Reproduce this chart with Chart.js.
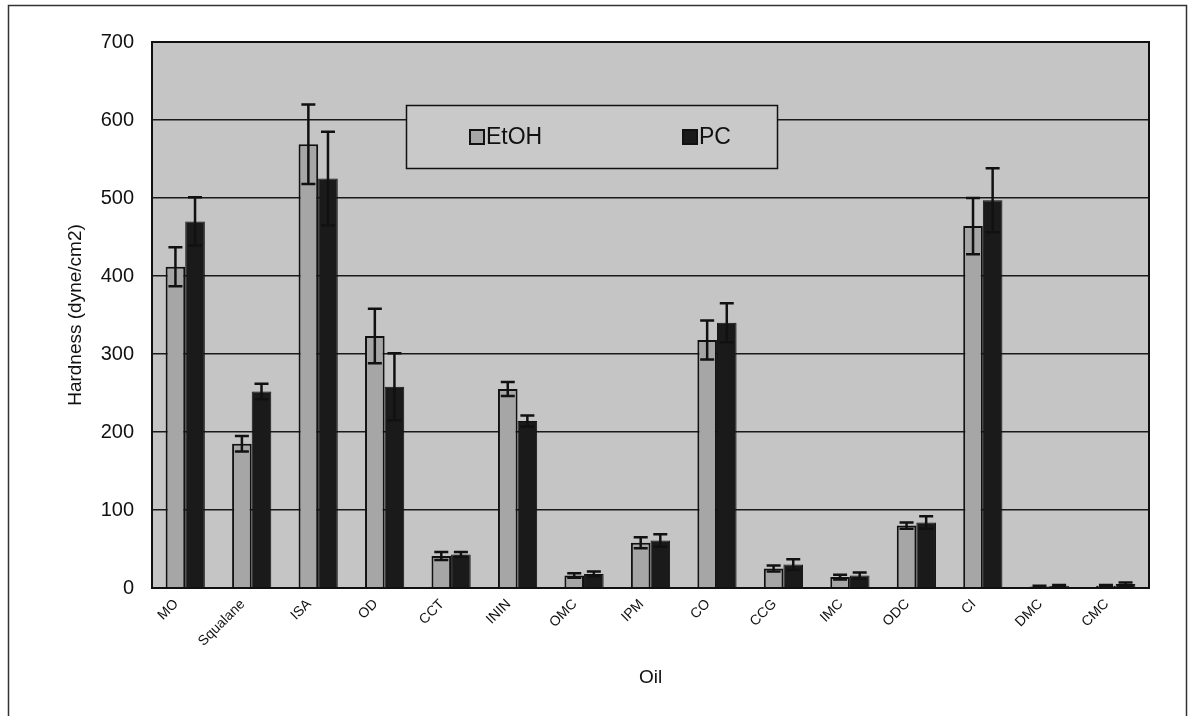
<!DOCTYPE html>
<html>
<head>
<meta charset="utf-8">
<script src="https://cdn.jsdelivr.net/npm/chart.js@4.4.0/dist/chart.umd.min.js"></script>
<style>
    html, body { margin: 0; padding: 0; background: #ffffff; }
    #wrap { position: relative; width: 1189px; height: 716px; }
</style>
</head>
<body>
<div id="wrap"><canvas id="chart1" width="1189" height="716"></canvas></div>
<script>
const oils = ['MO', 'Squalane', 'ISA', 'OD', 'CCT', 'ININ', 'OMC', 'IPM', 'CO', 'CCG', 'IMC', 'ODC', 'CI', 'DMC', 'CMC']
const etohValues = [412, 185, 569, 323, 41, 255, 16, 58, 318, 25, 14, 80, 464, 2, 3]
const etohErrors = [25, 10, 51, 35, 5, 9, 3, 7, 25, 4, 3, 4, 36, 1, 1]
const pcValues = [470, 252, 525, 258, 43, 214, 18, 61, 340, 30, 16, 84, 497, 3, 5]
const pcErrors = [31, 10, 60, 43, 3, 7, 3, 8, 25, 7, 4, 8, 41, 1, 2]
const yTicks = [0, 100, 200, 300, 400, 500, 600, 700]

const errorSets = [etohErrors, pcErrors]

// grey plot area + outer frame
const backgroundPlugin = {
    id: 'background',
    beforeDraw(chart) {
        const ctx = chart.ctx
        const a = chart.chartArea
        ctx.save()
        ctx.strokeStyle = '#333'
        ctx.lineWidth = 1.5
        ctx.strokeRect(8.5, 5.5, 1178, 712)
        ctx.fillStyle = '#c5c5c5'
        ctx.fillRect(a.left, a.top, a.right - a.left, a.bottom - a.top)
        ctx.restore()
    },
    afterDraw(chart) {
        const ctx = chart.ctx
        const a = chart.chartArea
        ctx.save()
        ctx.strokeStyle = '#111'
        ctx.lineWidth = 2
        ctx.strokeRect(a.left, a.top, a.right - a.left, a.bottom - a.top)
        ctx.restore()
    }
}

const errorBarPlugin = {
    id: 'errorBars',
    afterDatasetsDraw(chart) {
        const ctx = chart.ctx
        const y = chart.scales.y
        ctx.save()
        ctx.strokeStyle = '#111'
        ctx.lineWidth = 2.5
        chart.data.datasets.forEach((ds, i) => {
            const meta = chart.getDatasetMeta(i)
            meta.data.forEach((bar, j) => {
                const v = ds.data[j]
                const e = errorSets[i][j]
                const top = y.getPixelForValue(v + e)
                const bottom = y.getPixelForValue(Math.max(0, v - e))
                const x = bar.x
                ctx.beginPath()
                ctx.moveTo(x, top)
                ctx.lineTo(x, bottom)
                ctx.moveTo(x - 7, top)
                ctx.lineTo(x + 7, top)
                ctx.moveTo(x - 7, bottom)
                ctx.lineTo(x + 7, bottom)
                ctx.stroke()
            })
        })
        ctx.restore()
    }
}

// legend box inside plot area
const legendBoxPlugin = {
    id: 'legendBox',
    afterDraw(chart) {
        const ctx = chart.ctx
        ctx.save()
        ctx.fillStyle = '#c9c9c9'
        ctx.fillRect(406, 105, 371, 63)
        ctx.strokeStyle = '#111'
        ctx.lineWidth = 1.5
        ctx.strokeRect(406.5, 105.5, 371, 63)
        const xs = [470, 683]
        ctx.font = '23px "Liberation Sans", Arial, sans-serif'
        ctx.textBaseline = 'middle'
        chart.data.datasets.forEach((ds, i) => {
            ctx.fillStyle = ds.backgroundColor
            ctx.fillRect(xs[i], 130, 14, 14)
            ctx.strokeStyle = '#111'
            ctx.lineWidth = 2
            ctx.strokeRect(xs[i], 130, 14, 14)
            ctx.fillStyle = '#111'
            ctx.fillText(ds.label, xs[i] + 16, 138)
        })
        ctx.restore()
    }
}

function renderChart1() {
    const ctx = document.querySelector('#chart1').getContext('2d')
    const chart1 = new Chart(ctx, {
        type: 'bar',
        data: {
            labels: oils,
            datasets: [{
                label: 'EtOH',
                data: etohValues,
                backgroundColor: '#a6a6a6',
                borderColor: '#111',
                borderWidth: 2,
                borderSkipped: 'bottom'
            }, {
                label: 'PC',
                data: pcValues,
                backgroundColor: '#1a1a1a',
                borderColor: '#111',
                borderWidth: 1,
                borderSkipped: 'bottom'
            }]
        },
        options: {
            responsive: false,
            animation: false,
            events: [],
            datasets: {
                bar: {
                    categoryPercentage: 0.59,
                    barPercentage: 1.0
                }
            },
            layout: {
                padding: { left: 0, right: 40, top: 42, bottom: 0 }
            },
            scales: {
                x: {
                    afterFit(scale) { scale.height = 128 },
                    grid: { display: false, drawTicks: false },
                    border: { display: false },
                    ticks: {
                        color: '#111',
                        font: { family: '"Liberation Sans", Arial, sans-serif', size: 14 },
                        maxRotation: 45,
                        minRotation: 45,
                        padding: 8,
                        labelOffset: -9,
                        autoSkip: false
                    },
                    title: {
                        display: true,
                        text: 'Oil',
                        color: '#111',
                        font: { family: '"Liberation Sans", Arial, sans-serif', size: 19 },
                        padding: { top: 0, bottom: 27 }
                    }
                },
                y: {
                    min: 0,
                    max: 700,
                    afterFit(scale) { scale.width = 152 },
                    afterBuildTicks(scale) {
                        scale.ticks = yTicks.map(v => ({ value: v }))
                    },
                    grid: {
                        color: '#1a1a1a',
                        lineWidth: 1.5,
                        drawTicks: false
                    },
                    border: { display: false },
                    ticks: {
                        color: '#111',
                        font: { family: '"Liberation Sans", Arial, sans-serif', size: 20 },
                        padding: 18
                    },
                    title: {
                        display: true,
                        text: 'Hardness (dyne/cm2)',
                        color: '#111',
                        font: { family: '"Liberation Sans", Arial, sans-serif', size: 19 },
                        padding: { top: 64, bottom: 0 }
                    }
                }
            },
            plugins: {
                legend: { display: false },
                tooltip: { enabled: false }
            }
        },
        plugins: [backgroundPlugin, errorBarPlugin, legendBoxPlugin]
    })
}

renderChart1()
</script>
</body>
</html>
